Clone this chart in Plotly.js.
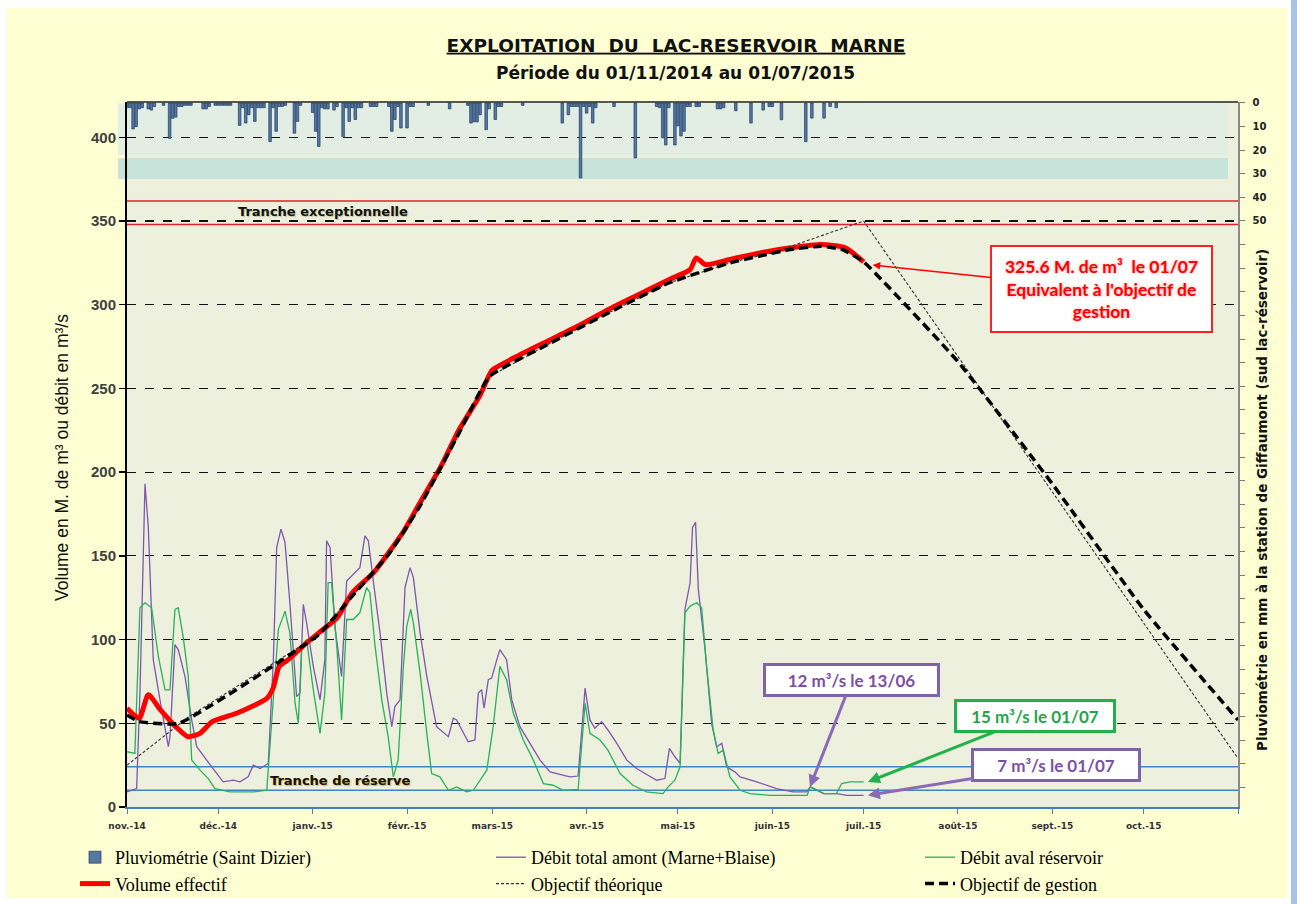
<!DOCTYPE html>
<html><head><meta charset="utf-8">
<script src="https://cdn.plot.ly/plotly-3.0.1.min.js"></script>
<style>html,body{margin:0;padding:0;background:#fff;}#chart{width:1297px;height:904px;}</style>
</head><body><div id="chart"></div>
<script>
// ---------- Tick labels ----------
const monthTicks = ['2014-11-01','2014-12-01','2015-01-01','2015-02-01','2015-03-01','2015-04-01','2015-05-01','2015-06-01','2015-07-01','2015-08-01','2015-09-01','2015-10-01','2015-11-01'];
const monthLabels = ['nov.-14','déc.-14','janv.-15','févr.-15','mars-15','avr.-15','mai-15','juin-15','juil.-15','août-15','sept.-15','oct.-15',''];
const pluvioTicks = [0,10,20,30,40,50,60,70,80,90,100,110,120,130,140,150,160,170,180,190,200,210,220,230,240,250,260,270,280,290];
const pluvioTickLabels = ['0','10','20','30','40','50','','','','','','','','','','','','','','','','','','','','','','','',''];

// ---------- Pluviométrie (mm / jour) ----------
const pluvioDates = ['2014-11-01','2014-11-02','2014-11-03','2014-11-04','2014-11-05','2014-11-06','2014-11-08','2014-11-09','2014-11-10','2014-11-13','2014-11-15','2014-11-16','2014-11-17','2014-11-18','2014-11-19','2014-11-20','2014-11-21','2014-11-22','2014-11-26','2014-11-27','2014-11-28','2014-11-30','2014-12-01','2014-12-02','2014-12-03','2014-12-04','2014-12-05','2014-12-08','2014-12-09','2014-12-10','2014-12-11','2014-12-12','2014-12-13','2014-12-14','2014-12-15','2014-12-16','2014-12-18','2014-12-19','2014-12-20','2014-12-21','2014-12-22','2014-12-23','2014-12-26','2014-12-27','2014-12-28','2015-01-01','2015-01-02','2015-01-03','2015-01-04','2015-01-05','2015-01-06','2015-01-08','2015-01-09','2015-01-11','2015-01-12','2015-01-13','2015-01-14','2015-01-15','2015-01-16','2015-01-17','2015-01-20','2015-01-21','2015-01-22','2015-01-26','2015-01-27','2015-01-28','2015-01-29','2015-01-30','2015-02-01','2015-02-02','2015-02-03','2015-02-08','2015-02-15','2015-02-21','2015-02-22','2015-02-23','2015-02-24','2015-02-25','2015-02-27','2015-02-28','2015-03-02','2015-03-03','2015-03-04','2015-03-11','2015-03-24','2015-03-26','2015-03-27','2015-03-28','2015-03-29','2015-03-30','2015-03-31','2015-04-01','2015-04-02','2015-04-03','2015-04-04','2015-04-10','2015-04-17','2015-04-24','2015-04-25','2015-04-26','2015-04-27','2015-04-28','2015-04-30','2015-05-01','2015-05-02','2015-05-03','2015-05-04','2015-05-05','2015-05-07','2015-05-08','2015-05-14','2015-05-15','2015-05-16','2015-05-20','2015-05-25','2015-05-29','2015-05-31','2015-06-01','2015-06-04','2015-06-12','2015-06-14','2015-06-18','2015-06-20','2015-06-22'];
const pluvioMm = [2,2,11,10,2.5,2,2.5,3,1.5,1,15,6.5,6,1.5,1.5,1,1,1,2.5,2.5,1.5,1,1,1,1,1,1,9.5,2,8.5,5,2,7.8,2,2,2,16.4,2,12,1.5,1.5,1,12.8,7.8,1,4,12,18.4,2,2.5,2.5,3,1.5,14.3,2,7.8,2,7,2,2,1.5,1.5,1.5,1.5,12,7,1.5,10.6,10.6,1.5,1.5,1,2.5,1,8.5,8,8,5,11.3,2.5,7,1.5,1.5,1,8.5,5,1.5,1.5,1.5,31.8,1.5,4.3,1.5,8.5,2,1.5,23.3,1.5,2,14.8,17.8,2,17.8,9.7,14,12,1.5,1.5,1.5,1.5,2.5,2.5,2,3.3,8.5,3,1.5,1.5,7.1,16.4,6.4,6.4,1.5,2];

// ---------- Débit total amont (Marne+Blaise), m3/s ----------
const amontDates = ['2014-11-01','2014-11-03','2014-11-04 04:00','2014-11-05 06:00','2014-11-06 22:00','2014-11-08','2014-11-09 15:00','2014-11-11 20:00','2014-11-14 14:00','2014-11-15 03:00','2014-11-16 18:00','2014-11-17 20:00','2014-11-20 01:00','2014-11-22 06:00','2014-11-23 22:00','2014-11-27 04:00','2014-11-30 11:00','2014-12-02 14:00','2014-12-05 22:00','2014-12-08 02:00','2014-12-10 19:00','2014-12-12 12:00','2014-12-14 17:00','2014-12-17 10:00','2014-12-19 02:00','2014-12-20 04:00','2014-12-21 14:00','2014-12-22 22:00','2014-12-24 12:00','2014-12-26 17:00','2014-12-27 20:00','2014-12-28 22:00','2014-12-30','2015-01-01 05:00','2015-01-03 10:00','2015-01-05','2015-01-05 14:00','2015-01-06 17:00','2015-01-08 08:00','2015-01-10 12:00','2015-01-12 04:00','2015-01-13 07:00','2015-01-14 22:00','2015-01-16 12:00','2015-01-18 04:00','2015-01-19 07:00','2015-01-20 22:00','2015-01-23 03:00','2015-01-25 08:00','2015-01-27','2015-01-28','2015-01-29 17:00','2015-01-31 08:00','2015-02-02','2015-02-03 02:00','2015-02-05 07:00','2015-02-07 12:00','2015-02-10 17:00','2015-02-14 14:00','2015-02-16 05:00','2015-02-17 07:00','2015-02-19 12:00','2015-02-21 02:00','2015-02-23 07:00','2015-02-24 10:00','2015-02-25 12:00','2015-02-26 07:00','2015-02-27 17:00','2015-02-28 19:00','2015-03-02 12:00','2015-03-03 12:00','2015-03-05 17:00','2015-03-07 10:00','2015-03-10 02:00','2015-03-13 10:00','2015-03-16 17:00','2015-03-20','2015-03-24 05:00','2015-03-26 12:00','2015-03-29 05:00','2015-03-31 12:00','2015-04-02 02:00','2015-04-03 17:00','2015-04-05 22:00','2015-04-08','2015-04-10 22:00','2015-04-14 05:00','2015-04-17 10:00','2015-04-20 05:00','2015-04-24','2015-04-26 17:00','2015-04-28 05:00','2015-04-30','2015-05-01 17:00','2015-05-03 07:00','2015-05-05','2015-05-05 19:00','2015-05-06 19:00','2015-05-07 17:00','2015-05-09 22:00','2015-05-12 02:00','2015-05-13 17:00','2015-05-15 10:00','2015-05-17','2015-05-19 17:00','2015-05-21 10:00','2015-05-26 22:00','2015-06-02 10:00','2015-06-07 19:00','2015-06-12 07:00','2015-06-13 12:00','2015-06-15 17:00','2015-06-17 22:00','2015-06-22 05:00','2015-06-25 12:00','2015-07-01'];
const amontValues = [9,10,11,68,193,167,88,64,36,42,97,94,78,52,36,28,20,15,16,15,18,25,23,26,88,155,166,158,122,66,68,121,110,84,64,88,159,155,107,78,135,137,140,143,162,159,135,104,68,48,60,64,131,143,137,104,78,48,42,53,52,44,39,40,68,70,59,76,77,88,94,88,64,48,38,28,21,19,18,18.5,71,52,47,51,46,38,28,23,20,16,17,35,30,26,118,134,167,170,130,94,50,36,38,24,21,18,15,11,9,9,12,10,8,8,7,7];

// ---------- Débit aval réservoir, m3/s ----------
const avalDates = ['2014-11-01','2014-11-03 14:00','2014-11-05 06:00','2014-11-06 22:00','2014-11-09 02:00','2014-11-11 07:00','2014-11-13 12:00','2014-11-15 03:00','2014-11-16 18:00','2014-11-17 20:00','2014-11-19 12:00','2014-11-21 03:00','2014-11-22 06:00','2014-11-25','2014-11-27 17:00','2014-11-29 22:00','2014-12-04 19:00','2014-12-12 12:00','2014-12-16 22:00','2014-12-19 02:00','2014-12-20 17:00','2014-12-22 22:00','2014-12-24 12:00','2014-12-26 05:00','2014-12-27 07:00','2014-12-28 10:00','2014-12-30','2015-01-01 05:00','2015-01-03 10:00','2015-01-05','2015-01-06 02:00','2015-01-07 05:00','2015-01-08 22:00','2015-01-10 12:00','2015-01-12 04:00','2015-01-14 07:00','2015-01-16 12:00','2015-01-18 17:00','2015-01-19 19:00','2015-01-21 12:00','2015-01-23 17:00','2015-01-25 19:00','2015-01-27 12:00','2015-01-29 02:00','2015-01-30 19:00','2015-01-31 22:00','2015-02-02 05:00','2015-02-03 02:00','2015-02-05 07:00','2015-02-07 12:00','2015-02-09 02:00','2015-02-11 19:00','2015-02-14 14:00','2015-02-17 07:00','2015-02-20 14:00','2015-02-22 19:00','2015-02-25','2015-02-27 05:00','2015-03-01 07:00','2015-03-03 12:00','2015-03-05 17:00','2015-03-07 22:00','2015-03-11 05:00','2015-03-14 12:00','2015-03-17 19:00','2015-03-21','2015-03-24 07:00','2015-03-29 05:00','2015-03-31 12:00','2015-04-02 02:00','2015-04-05 10:00','2015-04-08','2015-04-12','2015-04-16 05:00','2015-04-20 17:00','2015-04-26 02:00','2015-04-27 19:00','2015-04-30','2015-05-01 17:00','2015-05-03 07:00','2015-05-05','2015-05-07 05:00','2015-05-08 19:00','2015-05-10 10:00','2015-05-12 14:00','2015-05-14 05:00','2015-05-15 22:00','2015-05-18 02:00','2015-05-21 10:00','2015-05-24 17:00','2015-05-31 05:00','2015-06-12 10:00','2015-06-13 12:00','2015-06-15 17:00','2015-06-17 22:00','2015-06-22 02:00','2015-06-23 19:00','2015-06-26 12:00','2015-07-01'];
const avalValues = [33,32,119,122,119,90,70,70,118,119,101,78,28,22,17,11,9,9,10,68,106,117,104,62,50,96,100,70,44,68,134,134,96,52,112,112,116,131,128,96,64,42,18,28,84,108,118,110,80,44,20,18,10,12,9,10,16,22,48,84,76,56,40,28,14,13,10,10.5,62,44,40,34,20,13,9,8,12,16,24,116,120,122,119,84,46,32,34,18,10,8,7,7,12,10,8,8,14,15,15];

// ---------- Volume effectif (M. de m3) ----------
const volumeDates = ['2014-11-01','2014-11-05','2014-11-08','2014-11-12','2014-11-17','2014-11-21','2014-11-25','2014-11-29','2014-12-07','2014-12-12','2014-12-17','2014-12-19','2014-12-21','2014-12-24','2014-12-30','2015-01-03','2015-01-09','2015-01-14','2015-01-21','2015-01-26','2015-01-31','2015-02-05','2015-02-12','2015-02-18','2015-02-25','2015-02-28','2015-03-01','2015-03-10','2015-03-20','2015-03-30','2015-04-08','2015-04-18','2015-04-28','2015-05-05','2015-05-07','2015-05-10','2015-05-18','2015-05-28','2015-06-07','2015-06-17','2015-06-25','2015-07-01'];
const volumeValues = [59,53,67,58,48,42,44,51,56,60,65,71,84,88,98,104,113,128,140,152,165,181,203,225,246,258,261,270,279,288,297,306,315,321,328,324,327,331,334,336,334,325.6];

// ---------- Objectif théorique ----------
const theoDates = ['2014-11-01','2014-11-21','2015-01-03','2015-01-14','2015-01-26','2015-02-05','2015-02-18','2015-02-28','2015-03-20','2015-04-08','2015-04-28','2015-05-18','2015-06-01','2015-07-01','2015-11-01'];
const theoValues = [25,53.5,103,126,151,179,223,257,277,295,313,325,331,350,29];

// ---------- Objectif de gestion ----------
const gestionDates = ['2014-11-01','2014-11-05','2014-11-18','2015-01-03','2015-01-14','2015-01-26','2015-02-05','2015-02-18','2015-02-28','2015-03-20','2015-04-08','2015-04-28','2015-05-18','2015-06-07','2015-06-17','2015-06-24','2015-07-01','2015-08-01','2015-09-01','2015-10-01','2015-11-01'];
const gestionValues = [55,51,50,103,126,151,179,223,257,277,295,313,325,333,335,333,325.6,266,193,118,52];

// ---------- Reference levels ----------
const trancheExceptionnelle = [348, 362];
const trancheReserve = [10, 24];

const DAY = 86400000;
const traces = [
  {type:'bar', name:'Pluviométrie (Saint Dizier)', x:pluvioDates, y:pluvioMm, yaxis:'y2',
   width:0.85*DAY, marker:{color:'#56779F', line:{color:'#1F3D66', width:0.7}},
   legend:'legend', legendgroup:'g1'},
  {type:'scatter', mode:'lines', name:'Débit total amont (Marne+Blaise)', x:amontDates, y:amontValues,
   line:{color:'#7F56B2', width:1.3}, legend:'legend2', legendgroup:'g2'},
  {type:'scatter', mode:'lines', name:'Débit aval réservoir', x:avalDates, y:avalValues,
   line:{color:'#27B25A', width:1.3}, legend:'legend3', legendgroup:'g3'},
  {type:'scatter', mode:'lines', name:'Volume effectif', x:volumeDates, y:volumeValues,
   line:{color:'#FF0000', width:5, shape:'spline', smoothing:0.6}, legend:'legend', legendgroup:'g4'},
  {type:'scatter', mode:'lines', name:'Objectif théorique', x:theoDates, y:theoValues,
   line:{color:'#333333', width:1.1, dash:'3px,2px'}, legend:'legend2', legendgroup:'g5'},
  {type:'scatter', mode:'lines', name:'Objectif de gestion', x:gestionDates, y:gestionValues,
   line:{color:'#000000', width:3.5, dash:'9px,5px', shape:'spline', smoothing:0.4}, legend:'legend3', legendgroup:'g6'}
];

const legendFont = {family:'Liberation Serif', size:18, color:'#000'};
const legendBase = {orientation:'v', xref:'paper', yref:'container', xanchor:'left', yanchor:'top', y:0.0719,
  bgcolor:'rgba(0,0,0,0)', font:legendFont, tracegroupgap:0, itemwidth:30};

const calloutFont = (c, s) => ({family:'Lato', size:s, color:c, weight:'bold'});
const boldWide = 'DejaVu Sans';

const layout = {
  width:1297, height:904,
  margin:{l:127, r:59, t:102, b:97, autoexpand:false},
  paper_bgcolor:'#FEFED3',
  plot_bgcolor:'#ECF0DC',
  title:{text:'EXPLOITATION  DU  LAC-RESERVOIR  MARNE', x:0.5212, xanchor:'center', y:0.950, yanchor:'middle',
    font:{family:boldWide, size:18.5, color:'#111', weight:'bold', lineposition:'under'}},
  showlegend:true,
  legend:Object.assign({}, legendBase, {x:-0.0468}),
  legend2:Object.assign({}, legendBase, {x:0.3276}),
  legend3:Object.assign({}, legendBase, {x:0.7138}),
  xaxis:{type:'date', range:['2014-11-01','2015-11-01'], tickmode:'array', tickvals:monthTicks, ticktext:monthLabels,
    ticks:'outside', ticklen:5, tickcolor:'#4A7EBB', showline:true, linecolor:'#4A7EBB', linewidth:1.5,
    showgrid:false, zeroline:false, tickangle:0, ticklabelstandoff:5, automargin:false,
    tickfont:{family:boldWide, size:9, color:'#333', weight:'bold'}},
  yaxis:{range:[0,421.1], tick0:0, dtick:50, ticks:'outside', ticklen:6, tickcolor:'#000', tickwidth:1.5,
    showline:true, linecolor:'#000', linewidth:2, showgrid:true, gridcolor:'#111', griddash:'dash', gridwidth:1.2,
    zeroline:false, automargin:false, tickfont:{family:'Liberation Sans', size:15, color:'#404040', weight:'bold'}},
  yaxis2:{overlaying:'y', side:'right', range:[298.3,-0.42], tickmode:'array', tickvals:pluvioTicks, ticktext:pluvioTickLabels,
    ticks:'outside', ticklen:5, tickcolor:'#777', showline:true, linecolor:'#8A8A8A', linewidth:1.5,
    showgrid:false, zeroline:false, ticklabelstandoff:6, automargin:false,
    tickfont:{family:boldWide, size:10, color:'#222', weight:'bold'}},
  shapes:[
    // outer frame
    {type:'rect', xref:'paper', yref:'paper', x0:-0.1143, x1:-0.108, y0:-0.1376, y1:1.1447, fillcolor:'#FFFFFF', line:{width:0}, layer:'below'},
    {type:'rect', xref:'paper', yref:'paper', x0:-0.1143, x1:1.0531, y0:1.1333, y1:1.1447, fillcolor:'#FFFFFF', line:{width:0}, layer:'below'},
    {type:'rect', xref:'paper', yref:'paper', x0:1.0441, x1:1.0477, y0:-0.1376, y1:1.1447, fillcolor:'#FFFFFF', line:{width:0}, layer:'below'},
    {type:'rect', xref:'paper', yref:'paper', x0:1.0477, x1:1.0531, y0:-0.1376, y1:1.1447, fillcolor:'#A9C3E6', line:{width:0}, layer:'below'},
    {type:'rect', xref:'paper', yref:'paper', x0:-0.1143, x1:1.0441, y0:-0.1376, y1:-0.1291, fillcolor:'#FFFFFF', line:{width:0}, layer:'below'},
    // rain band background
    {type:'rect', xref:'paper', yref:'y2', x0:-0.0081, x1:0.991, y0:0.2, y1:22, fillcolor:'#E2EEE4', line:{width:0}, layer:'below'},
    {type:'rect', xref:'paper', yref:'y2', x0:-0.0081, x1:0.991, y0:23.3, y1:32.2, fillcolor:'#C8E3DA', line:{width:0}, layer:'below'},
    // top frame
    {type:'line', xref:'paper', yref:'paper', x0:0, x1:1, y0:1, y1:1, line:{color:'#222', width:1.5}},
    // tranches
    {type:'line', xref:'paper', yref:'y', x0:0, x1:1, y0:trancheExceptionnelle[0], y1:trancheExceptionnelle[0], line:{color:'#E3222B', width:1.5}, layer:'below'},
    {type:'line', xref:'paper', yref:'y', x0:0, x1:1, y0:trancheExceptionnelle[1], y1:trancheExceptionnelle[1], line:{color:'#E3222B', width:1.5}, layer:'below'},
    {type:'line', xref:'paper', yref:'y', x0:0, x1:1, y0:trancheReserve[0], y1:trancheReserve[0], line:{color:'#3C86C8', width:1.5}, layer:'below'},
    {type:'line', xref:'paper', yref:'y', x0:0, x1:1, y0:trancheReserve[1], y1:trancheReserve[1], line:{color:'#3C86C8', width:1.5}, layer:'below'}
  ],
  annotations:[
    {xref:'paper', yref:'paper', x:0.494, y:1.041, xanchor:'center', yanchor:'middle', text:'Période du 01/11/2014 au 01/07/2015', showarrow:false,
     font:{family:boldWide, size:17, color:'#111', weight:'bold'}},
    {xref:'paper', yref:'paper', x:-0.0585, y:0.495, xanchor:'center', yanchor:'middle', text:'Volume en M. de m³ ou débit en m³/s', textangle:-90, showarrow:false,
     font:{family:'Liberation Sans', size:17.5, color:'#111'}},
    {xref:'paper', yref:'paper', x:1.0216, y:0.4355, xanchor:'center', yanchor:'middle', text:'Pluviométrie en mm à la station de Giffaumont (sud lac-réservoir)', textangle:-90, showarrow:false,
     font:{family:boldWide, size:13.5, color:'#111', weight:'bold'}},
    {xref:'paper', yref:'y', x:0.1764, y:355.5, xanchor:'center', yanchor:'middle', text:'Tranche exceptionnelle', showarrow:false,
     font:{family:boldWide, size:13, color:'#111', weight:'bold', shadow:'1px 1px 1px rgba(180,180,150,0.8)'}},
    {xref:'paper', yref:'y', x:0.1917, y:15.8, xanchor:'center', yanchor:'middle', text:'Tranche de réserve', showarrow:false,
     font:{family:boldWide, size:13, color:'#111', weight:'bold', shadow:'1px 1px 1px rgba(220,160,60,0.8)'}},
    {xref:'x', yref:'y', x:'2015-07-04', y:323.7, ax:229, ay:24, showarrow:true, arrowhead:2, arrowsize:1, arrowwidth:1.5, arrowcolor:'#FF0000',
     text:'325.6 M. de m³  le 01/07<br>Equivalent à l\'objectif de<br>gestion', align:'center', width:209, height:74,
     bgcolor:'#FFFFFF', bordercolor:'#FF2020', borderwidth:2, borderpad:5,
     font:Object.assign(calloutFont('#FF0000', 17.5), {shadow:'0px 0px 3px rgba(255,80,80,0.6)'})},
    {xref:'x', yref:'y', x:'2015-06-13 09:00', y:12, ax:42, ay:-107, showarrow:true, arrowhead:2, arrowsize:0.8, arrowwidth:3, arrowcolor:'#8A6BB5',
     text:'12 m³/s le 13/06', width:163, height:20, bgcolor:'#FFFFFF', bordercolor:'#7F62A8', borderwidth:3, borderpad:4,
     font:calloutFont('#7D4FA8', 17)},
    {xref:'x', yref:'y', x:'2015-07-02 10:00', y:15, ax:167, ay:-66, showarrow:true, arrowhead:2, arrowsize:0.8, arrowwidth:3, arrowcolor:'#22B14C',
     text:'15 m³/s le 01/07', width:148, height:20, bgcolor:'#FFFFFF', bordercolor:'#22B04C', borderwidth:3, borderpad:4,
     font:calloutFont('#1FA64A', 17)},
    {xref:'x', yref:'y', x:'2015-07-02 10:00', y:7, ax:188, ay:-30, showarrow:true, arrowhead:2, arrowsize:0.8, arrowwidth:3, arrowcolor:'#8A6BB5',
     text:'7 m³/s le 01/07', width:156, height:20, bgcolor:'#FFFFFF', bordercolor:'#7F62A8', borderwidth:3, borderpad:4,
     font:calloutFont('#7D4FA8', 17)}
  ]
};

Plotly.newPlot('chart', traces, layout, {displayModeBar:false, staticPlot:true});
</script>
</body></html>
